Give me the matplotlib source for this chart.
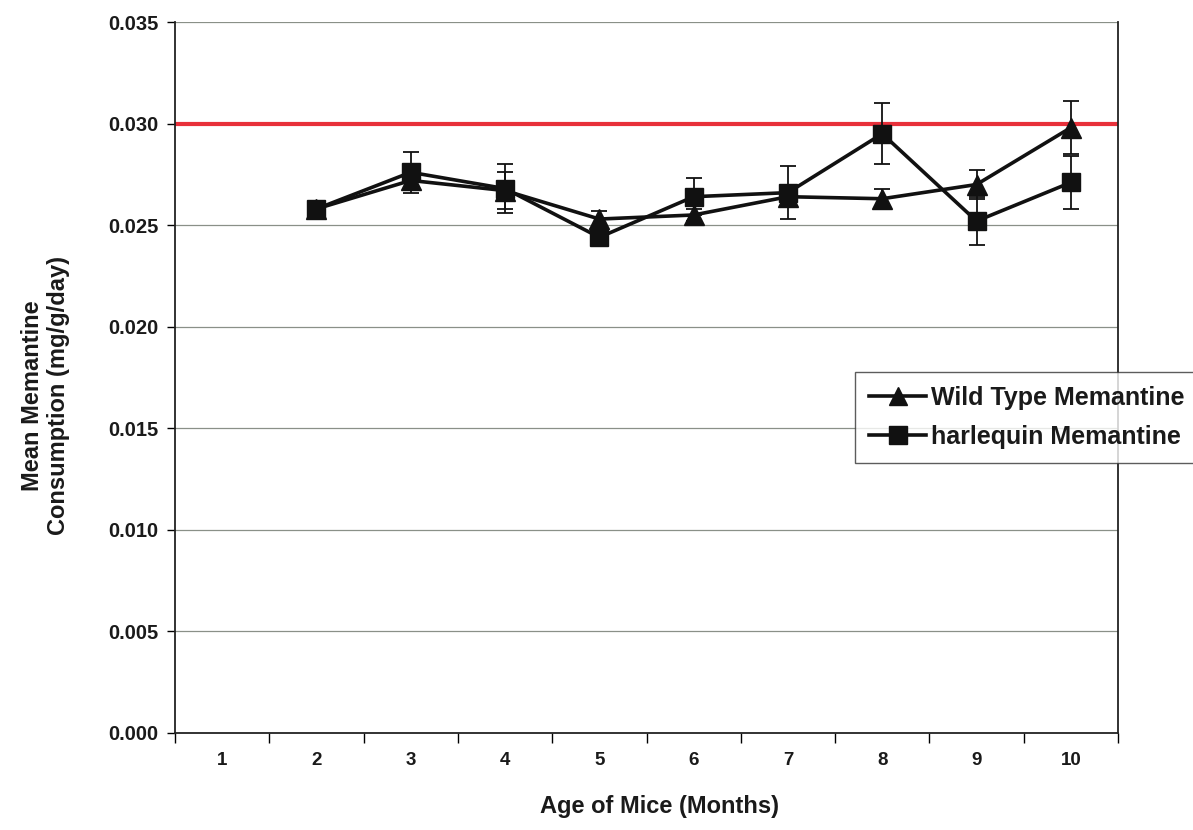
import matplotlib
matplotlib.use("Agg")
import matplotlib.pyplot as plt
from matplotlib.lines import Line2D
from matplotlib.ticker import FixedLocator, NullFormatter, FixedFormatter

plt.rcParams['font.family'] = ['Liberation Sans', 'DejaVu Sans']

months = [2, 3, 4, 5, 6, 7, 8, 9, 10]
tick_labels = ['1', '2', '3', '4', '5', '6', '7', '8', '9', '10']
wild_type = [0.0258, 0.0272, 0.0267, 0.0253, 0.0255, 0.0264, 0.0263, 0.0270, 0.0298]
wild_err = [0.0003, 0.0004, 0.0009, 0.0004, 0.0003, 0.0005, 0.0005, 0.0007, 0.0013]
harlequin = [0.0258, 0.0276, 0.0268, 0.0244, 0.0264, 0.0266, 0.0295, 0.0252, 0.0271]
harl_err = [0.0003, 0.0010, 0.0012, 0.0003, 0.0009, 0.0013, 0.0015, 0.0012, 0.0013]
threshold = 0.030
series_labels = ['Wild Type Memantine', 'harlequin Memantine']

fig = plt.figure(figsize=(11.93, 8.30), dpi=100)
ax = fig.add_axes([175/1193, 1-733/830, (1118-175)/1193, (733-22)/830])

for y in [0.005, 0.010, 0.015, 0.020, 0.025, 0.030, 0.035]:
    ax.axhline(y, color='#8a9088', lw=0.9, zorder=0)

ax.axhline(threshold, color='#e8303a', lw=3, zorder=1)

ax.errorbar(months, wild_type, yerr=wild_err, color='#111111', lw=2.6,
            marker='^', markersize=14, elinewidth=1.3, capsize=6, capthick=1.3, zorder=3)
ax.errorbar(months, harlequin, yerr=harl_err, color='#111111', lw=2.6,
            marker='s', markersize=13.5, elinewidth=1.3, capsize=6, capthick=1.3, zorder=4)

ax.set_xlim(0.5, 10.5)
ax.set_ylim(0, 0.035)
ax.xaxis.set_major_locator(FixedLocator([i + 0.5 for i in range(0, 11)]))
ax.xaxis.set_major_formatter(NullFormatter())
ax.xaxis.set_minor_locator(FixedLocator(list(range(1, 11))))
ax.xaxis.set_minor_formatter(FixedFormatter(tick_labels))
ax.tick_params(axis='x', which='major', direction='out', length=7, width=1)
ax.tick_params(axis='x', which='minor', length=0, pad=14, labelsize=13.5)
ax.set_yticks([0.000, 0.005, 0.010, 0.015, 0.020, 0.025, 0.030, 0.035])
ax.set_yticklabels(['0.000', '0.005', '0.010', '0.015', '0.020', '0.025', '0.030', '0.035'])
ax.tick_params(axis='y', direction='out', length=6, width=1, labelsize=14.5, pad=6)
for lab in ax.get_xticklabels(minor=True) + ax.get_yticklabels():
    lab.set_fontweight('bold')
    lab.set_color('#1a1a1a')

for s in ['left', 'bottom', 'right']:
    ax.spines[s].set_color('#222222')
    ax.spines[s].set_linewidth(1.3)
ax.spines['top'].set_visible(False)

ax.set_xlabel('Age of Mice (Months)', fontsize=17, fontweight='bold', color='#1a1a1a')
ax.xaxis.set_label_coords((660-175)/943, (733-795)/711)
ax.set_ylabel('Mean Memantine\nConsumption (mg/g/day)', fontsize=17, fontweight='bold',
              color='#1a1a1a', linespacing=1.15)
ax.yaxis.set_label_coords((70-175)/943, 0.475)

handles = [Line2D([], [], color='#111111', lw=2.6, marker='^', markersize=13),
           Line2D([], [], color='#111111', lw=2.6, marker='s', markersize=12.5)]
leg = ax.legend(handles, series_labels, loc='upper left', bbox_to_anchor=(855/1193, 1-372/830),
                bbox_transform=fig.transFigure, prop={'size': 18, 'weight': 'bold'},
                frameon=True, fancybox=False, edgecolor='#333333', handlelength=2.3,
                borderpad=0.55, labelspacing=0.6, handletextpad=0.2, borderaxespad=0)
leg.get_frame().set_linewidth(1.0)
for t in leg.get_texts():
    t.set_color('#1a1a1a')

fig.savefig('out.png', dpi=100)
